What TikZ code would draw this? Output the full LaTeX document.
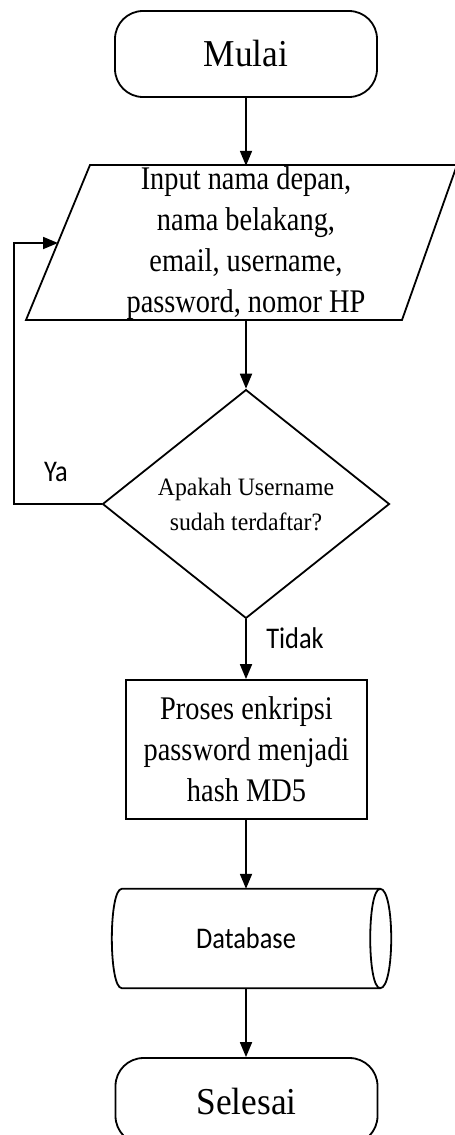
\documentclass[tikz,border=0pt]{standalone}
\usepackage{fontspec}
\usetikzlibrary{arrows.meta,shapes.geometric,calc}
\newfontfamily\termfont[FakeStretch=0.93]{Liberation Serif}
\newfontfamily\bodyfont[FakeStretch=0.86]{Liberation Serif}
\newfontfamily\askfont[FakeStretch=0.95]{Liberation Serif}
\newfontfamily\tagfont[FakeStretch=0.88]{Carlito}
\begin{document}
\begin{tikzpicture}[x=1pt,y=-1pt,
  outline/.style={draw=black,line width=1.8pt},
  flow/.style={draw=black,line width=1.8pt,-{Triangle[length=15pt,width=12pt]}},
  terminal/.style={outline,rounded corners=28pt,minimum width=262pt,minimum height=86pt,inner sep=0pt,
    font=\termfont\fontsize{38}{44}\selectfont},
  iobox/.style={inner sep=0pt,minimum width=300pt,minimum height=155pt,align=center,
    font=\bodyfont\fontsize{33}{41}\selectfont},
  decision/.style={outline,diamond,minimum width=287pt,minimum height=228pt,inner sep=0pt,align=center,
    font=\askfont\fontsize{25}{35}\selectfont},
  process/.style={outline,rectangle,minimum width=241pt,minimum height=139pt,inner sep=0pt,align=center,
    font=\bodyfont\fontsize{33}{41}\selectfont},
  storebox/.style={inner sep=0pt,minimum width=268pt,minimum height=99pt,
    font=\tagfont\fontsize{30}{36}\selectfont},
  tag/.style={inner sep=0pt,font=\tagfont\fontsize{30}{36}\selectfont}]
\clip (0,0) rectangle (455,1135);

% start
\node[terminal] (start) at (246,54) {Mulai};

% input (parallelogram drawn around a plain node)
\node[iobox] (input) at (246,243.5) {Input nama depan,\\nama belakang,\\email, username,\\password, nomor HP};
\draw[outline] (90,165) -- (457,165) -- (402,320) -- (26,320) -- cycle;
\coordinate (inputleft) at (58,243);

% decision
\node[decision] (check) at (246,504) {Apakah Username\\sudah terdaftar?};

% process
\node[process] (hash) at (246.5,749.5) {Proses enkripsi\\password menjadi\\hash MD5};

% stored data
\node[storebox] (db) at (246,938.5) {Database};
\draw[outline] ([xshift=10pt]db.north west)
  .. controls ([xshift=-3.3pt]db.north west) and ([xshift=-3.3pt]db.south west) .. ([xshift=10pt]db.south west)
  -- (db.south east)
  .. controls ([xshift=14.7pt]db.south east) and ([xshift=14.7pt]db.north east) .. (db.north east)
  -- cycle;
\draw[outline] (db.north east)
  .. controls ([xshift=-13.3pt]db.north east) and ([xshift=-13.3pt]db.south east) .. (db.south east);

% end
\node[terminal] (stop) at (246.5,1101) {Selesai};

% connectors
\draw[flow] (start.south) -- (input.north);
\draw[flow] (input.south) -- (check.north);
\draw[flow] (check.west) -- (14,504) -- (14,243) -- (inputleft);
\draw[flow] (check.south) -- (hash.north -| check.south);
\draw[flow] (hash.south -| db.north) -- (db.north);
\draw[flow] (db.south) -- (db.south |- stop.north);

% branch labels
\node[tag] (ya) at (56,472) {Ya};
\node[tag] (tidak) at (295,638) {Tidak};
\end{tikzpicture}
\end{document}
